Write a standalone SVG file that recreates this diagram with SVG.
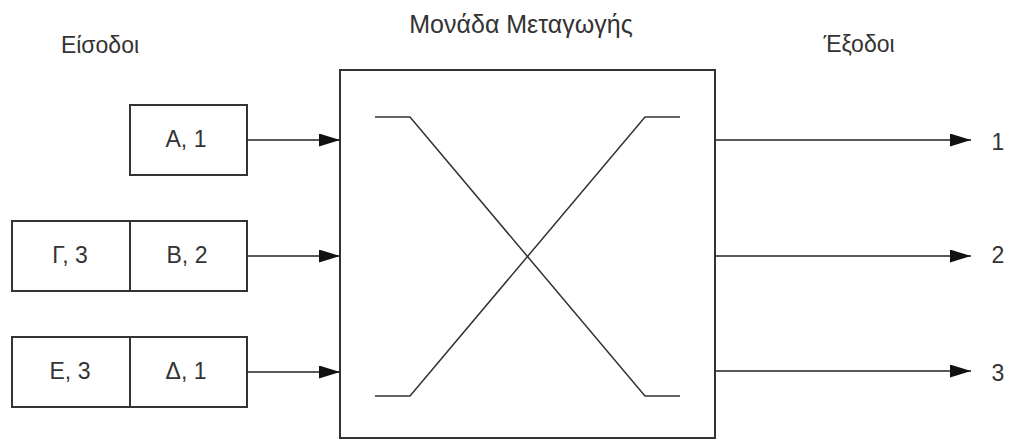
<svg xmlns="http://www.w3.org/2000/svg" width="1011" height="441" viewBox="0 0 1011 441">
  <style>
    .box { fill: #fff; stroke: #333; stroke-width: 2; }
    .wire { fill: none; stroke: #222; stroke-width: 1.6; }
    .cross { fill: none; stroke: #333; stroke-width: 1.5; }
    .lbl { font-family: "Liberation Sans", Arial, sans-serif; font-size: 23px; fill: #333; }
    .title { font-size: 25px; }
    .mid { text-anchor: middle; }
  </style>
  <defs>
    <marker id="arrow" markerWidth="22" markerHeight="13" refX="21" refY="6.5" orient="auto" markerUnits="userSpaceOnUse">
      <path d="M0,0 L21,6.5 L0,13 Z" fill="#111"/>
    </marker>
  </defs>
  <rect width="1011" height="441" fill="#fff"/>

  <!-- Headings -->
  <text class="lbl mid" x="100" y="53">Είσοδοι</text>
  <text class="lbl title mid" x="521" y="33">Μονάδα Μεταγωγής</text>
  <text class="lbl mid" x="859" y="52">Έξοδοι</text>

  <!-- Input queues -->
  <g id="queue-1">
    <rect class="box" x="130" y="105" width="117" height="70"/>
    <text class="lbl mid" x="186" y="147">Α, 1</text>
  </g>
  <g id="queue-2">
    <rect class="box" x="12" y="221" width="235" height="70"/>
    <line class="box" x1="130" y1="221" x2="130" y2="291"/>
    <text class="lbl mid" x="70" y="263">Γ, 3</text>
    <text class="lbl mid" x="187" y="263">Β, 2</text>
  </g>
  <g id="queue-3">
    <rect class="box" x="12" y="337" width="235" height="70"/>
    <line class="box" x1="130" y1="337" x2="130" y2="407"/>
    <text class="lbl mid" x="70" y="379">Ε, 3</text>
    <text class="lbl mid" x="186" y="379">Δ, 1</text>
  </g>

  <!-- Switching unit -->
  <g id="switch">
    <rect class="box" x="340" y="70" width="375" height="368"/>
    <polyline class="cross" points="375,117 410,117 645,396 680,396"/>
    <polyline class="cross" points="375,396 410,396 645,117 680,117"/>
  </g>

  <!-- Output labels -->
  <g id="out-1"><text class="lbl mid" x="998" y="150">1</text></g>
  <g id="out-2"><text class="lbl mid" x="998" y="263">2</text></g>
  <g id="out-3"><text class="lbl mid" x="998" y="381">3</text></g>

  <!-- Connectors -->
  <g id="connectors">
    <line class="wire" x1="247" y1="140" x2="340" y2="140" marker-end="url(#arrow)"/>
    <line class="wire" x1="247" y1="256" x2="340" y2="256" marker-end="url(#arrow)"/>
    <line class="wire" x1="247" y1="372" x2="340" y2="372" marker-end="url(#arrow)"/>
    <line class="wire" x1="715" y1="140" x2="971" y2="140" marker-end="url(#arrow)"/>
    <line class="wire" x1="715" y1="256" x2="971" y2="256" marker-end="url(#arrow)"/>
    <line class="wire" x1="715" y1="371" x2="971" y2="371" marker-end="url(#arrow)"/>
  </g>
</svg>
